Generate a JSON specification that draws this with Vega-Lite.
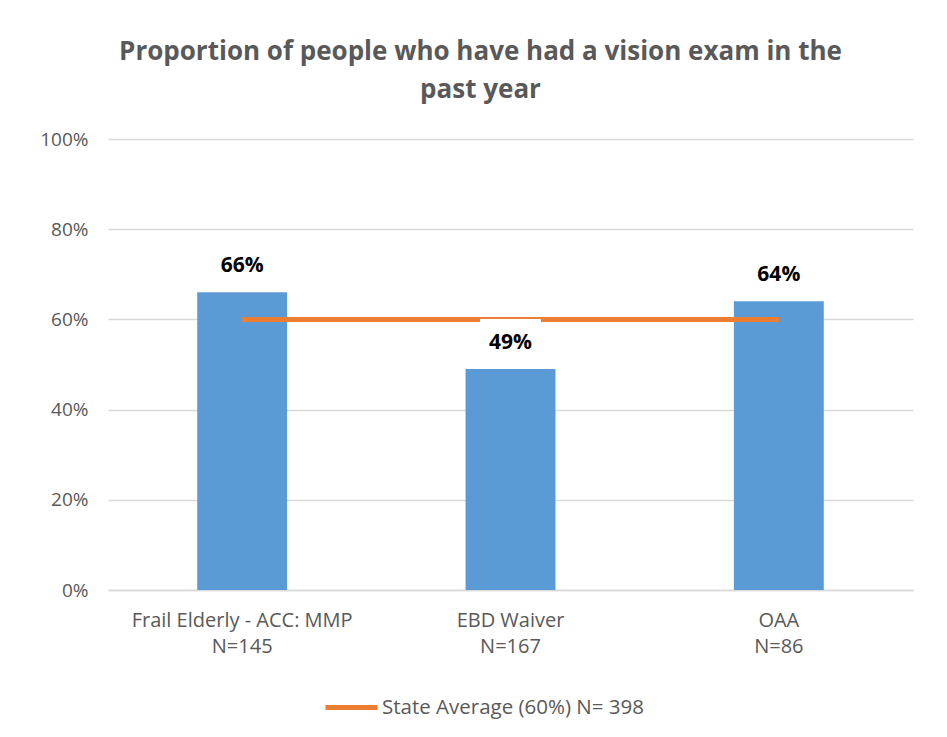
{
  "$schema": "https://vega.github.io/schema/vega-lite/v6.json",
  "autosize": {"type": "none"},
  "width": 805,
  "height": 451,
  "padding": {"left": 108, "top": 139, "right": 34, "bottom": 147},
  "background": "white",
  "title": {
    "text": ["Proportion of people who have had a vision exam in the", "past year"],
    "fontSize": 26,
    "font": "Open Sans",
    "fontWeight": "bold",
    "color": "#595959",
    "lineHeight": 38,
    "offset": 27,
    "dx": -30
  },
  "data": {
    "values": [
      {"group": "Frail Elderly - ACC: MMP\nN=145", "value": 0.66, "series": "State Average (60%) N= 398", "state": 0.6},
      {"group": "EBD Waiver\nN=167", "value": 0.49, "series": "State Average (60%) N= 398", "state": 0.6},
      {"group": "OAA\nN=86", "value": 0.64, "series": "State Average (60%) N= 398", "state": 0.6}
    ]
  },
  "encoding": {
    "x": {
      "field": "group",
      "type": "nominal",
      "sort": null,
      "scale": {"paddingInner": 0.665, "paddingOuter": 0.3325},
      "axis": {
        "title": null,
        "labelAngle": 0,
        "labelExpr": "split(datum.label, '\\n')",
        "labelFont": "Open Sans",
        "labelFontSize": 20,
        "labelColor": "#595959",
        "labelLineHeight": 26,
        "labelPadding": 20,
        "labelLimit": 0,
        "ticks": false,
        "domainColor": "#d9d9d9",
        "domainWidth": 1.5
      }
    }
  },
  "layer": [
    {
      "mark": {"type": "bar", "color": "#5B9BD5"},
      "encoding": {
        "y": {
          "field": "value",
          "type": "quantitative",
          "scale": {"domain": [0, 1]},
          "axis": {
            "title": null,
            "format": ".0%",
            "values": [0, 0.2, 0.4, 0.6, 0.8, 1],
            "domain": false,
            "ticks": false,
            "labelFont": "Open Sans",
            "labelFontSize": 19,
            "labelColor": "#595959",
            "labelPadding": 20,
            "gridColor": "#d9d9d9",
            "gridWidth": 1.5
          }
        }
      }
    },
    {
      "mark": {"type": "line", "strokeWidth": 5},
      "encoding": {
        "y": {"field": "state", "type": "quantitative"},
        "color": {
          "field": "series",
          "type": "nominal",
          "scale": {"range": ["#ED7D31"]},
          "legend": {
            "title": null,
            "orient": "none",
            "legendX": 215,
            "legendY": 540,
            "symbolType": "stroke",
            "symbolStrokeWidth": 5,
            "symbolSize": 2700,
            "labelFont": "Open Sans",
            "labelFontSize": 20.5,
            "labelColor": "#595959",
            "labelOffset": 2,
            "labelLimit": 0
          }
        }
      }
    },
    {
      "transform": [{"filter": "datum.value < datum.state"}],
      "mark": {"type": "point", "shape": "M-1,-0.69H1V0.69H-1Z", "filled": true, "color": "white", "opacity": 1, "size": 3721, "yOffset": -29},
      "encoding": {
        "y": {"field": "value", "type": "quantitative"}
      }
    },
    {
      "mark": {"type": "text", "fontSize": 21, "fontWeight": "bold", "font": "Open Sans", "color": "#000000", "baseline": "middle", "dy": -26},
      "encoding": {
        "y": {"field": "value", "type": "quantitative"},
        "text": {"field": "value", "type": "quantitative", "format": ".0%"}
      }
    }
  ],
  "config": {"view": {"stroke": null}}
}
